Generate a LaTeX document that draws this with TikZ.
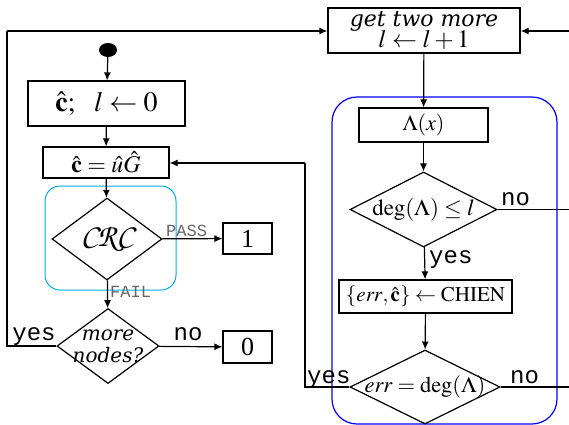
\documentclass[tikz,border=0pt]{standalone}
\usepackage{mathptmx}
\usepackage{fontspec}
\setmainfont{Liberation Serif}
\setmonofont{Liberation Mono}
\newfontfamily\itfont{DejaVu Serif}
\usetikzlibrary{shapes.geometric,arrows.meta}
\tikzset{
  ln/.style={line width=1.2pt,draw=black},
  arr/.style={ln,-{Latex[length=8pt,width=7pt]}},
  box/.style={draw,line width=1.2pt,inner sep=0pt,anchor=center},
  dia/.style={draw,line width=1.2pt,diamond,inner sep=0pt,anchor=center},
  tt/.style={font=\fontsize{24}{24}\selectfont\ttfamily,inner sep=0pt},
  gt/.style={font=\fontsize{17}{17}\selectfont\ttfamily,text=black!60,inner sep=0pt},
}
\begin{document}
\begin{tikzpicture}[x=1pt,y=-1pt]
\clip (0,0) rectangle (569,424);
\fill[white] (0,0) rectangle (569,424);
% group frames
\draw[cyan,line width=1pt,rounded corners=15pt] (45,186) rectangle (176,290);
\draw[blue,line width=1.2pt,rounded corners=25pt] (332,97) rectangle (557,424);
% nodes
\node[fill=black,ellipse,minimum width=18pt,minimum height=14pt,inner sep=0pt] (start) at (108,50) {};
\node[box,minimum width=157pt,minimum height=45pt] (b1) at (106.5,103.5) {\fontsize{28}{30}\selectfont$\hat{\mathbf{c}};\hspace{0.55em}l\leftarrow 0$};
\node[box,minimum width=126pt,minimum height=31pt] (b2) at (106,162.5) {\fontsize{24}{26}\selectfont$\hat{\mathbf{c}}=\hat{u}\hat{G}$};
\node[dia,minimum width=110pt,minimum height=82pt] (crc) at (107,239) {};
\node[inner sep=0pt] (crct) at (crc.center) {\fontsize{32}{32}\usefont{OT1}{pzc}{mb}{it}CRC};
\node[box,minimum width=49pt,minimum height=31pt] (one) at (247.5,238.5) {\fontsize{26}{26}\selectfont 1};
\node[dia,minimum width=102pt,minimum height=75pt] (more) at (108,346) {};
\node[inner sep=0pt,align=center,font=\fontsize{20}{22}\selectfont\itfont\itshape] (moret) at (more.center) {more\\nodes?};
\node[box,minimum width=49pt,minimum height=32pt] (zero) at (247.5,347) {\fontsize{26}{26}\selectfont 0};
\node[box,minimum width=192pt,minimum height=45pt,align=center] (get) at (424,30.5) {\fontsize{22}{22}\selectfont\itfont\itshape get two more\\[-2pt]\fontsize{25}{25}\selectfont$l\leftarrow l+1$};
\node[box,minimum width=129pt,minimum height=34pt] (lam) at (423.5,125) {\fontsize{22}{22}\selectfont$\Lambda(x)$};
\node[dia,minimum width=147pt,minimum height=75pt] (deg) at (423.5,209.5) {};
\node[inner sep=0pt] (degt) at (deg.center) {\fontsize{23}{23}\selectfont$\deg(\Lambda)\le l$};
\node[box,minimum width=173pt,minimum height=33pt] (chien) at (425.5,296.5) {\fontsize{21}{21}\selectfont$\{\mathit{err},\hat{\mathbf{c}}\}\leftarrow\mathrm{CHIEN}$};
\node[dia,minimum width=150pt,minimum height=74pt] (err) at (425,387) {};
\node[inner sep=0pt] (errt) at (err.center) {\fontsize{22.5}{22.5}\selectfont$\mathit{err}=\deg(\Lambda)$};
% helper coordinates
\coordinate (lb) at (7,346);
\coordinate (lt) at (7,31);
\coordinate (mb) at (305,387);
\coordinate (mt) at (305,163);
\coordinate (r1) at (585,209.5);
\coordinate (r2) at (585,387);
\coordinate (rt) at (585,31);
% connectors
\draw[arr] (start) -- (b1);
\draw[arr] (b1) -- (b2);
\draw[arr] (b2) -- (crc);
\draw[arr] (crc) -- (one);
\node[gt,anchor=base west] (pass) at (166,236) {PASS};
\draw[arr] (crc) -- (more);
\node[gt,anchor=base west] (fail) at (110,297) {FAIL};
\draw[arr] (more) -- (zero);
\node[tt,anchor=base] (no1) at (188,340) {no};
\draw[ln] (more.west) -- (lb) -- (lt);
\draw[arr] (lt) -- (get.west |- lt);
\node[tt,anchor=base] (yes1) at (34,340) {yes};
\draw[arr] (get) -- (lam);
\draw[arr] (lam) -- (deg);
\draw[arr] (deg) -- (chien);
\node[tt,anchor=base west] (yes2) at (429,263) {yes};
\draw[arr] (chien) -- (err);
\draw[ln] (deg.east) -- (r1) -- (rt);
\node[tt,anchor=base west] (no2) at (501,205) {no};
\draw[arr] (rt) -- (get.east |- rt);
\draw[ln] (err.east) -- (r2) -- (rt);
\node[tt,anchor=base west] (no3) at (510,383) {no};
\draw[ln] (err.west) -- (mb) -- (mt);
\draw[arr] (mt) -- (b2.east |- mt);
\node[tt,anchor=base west] (yes3) at (307,383) {yes};
\end{tikzpicture}
\end{document}
